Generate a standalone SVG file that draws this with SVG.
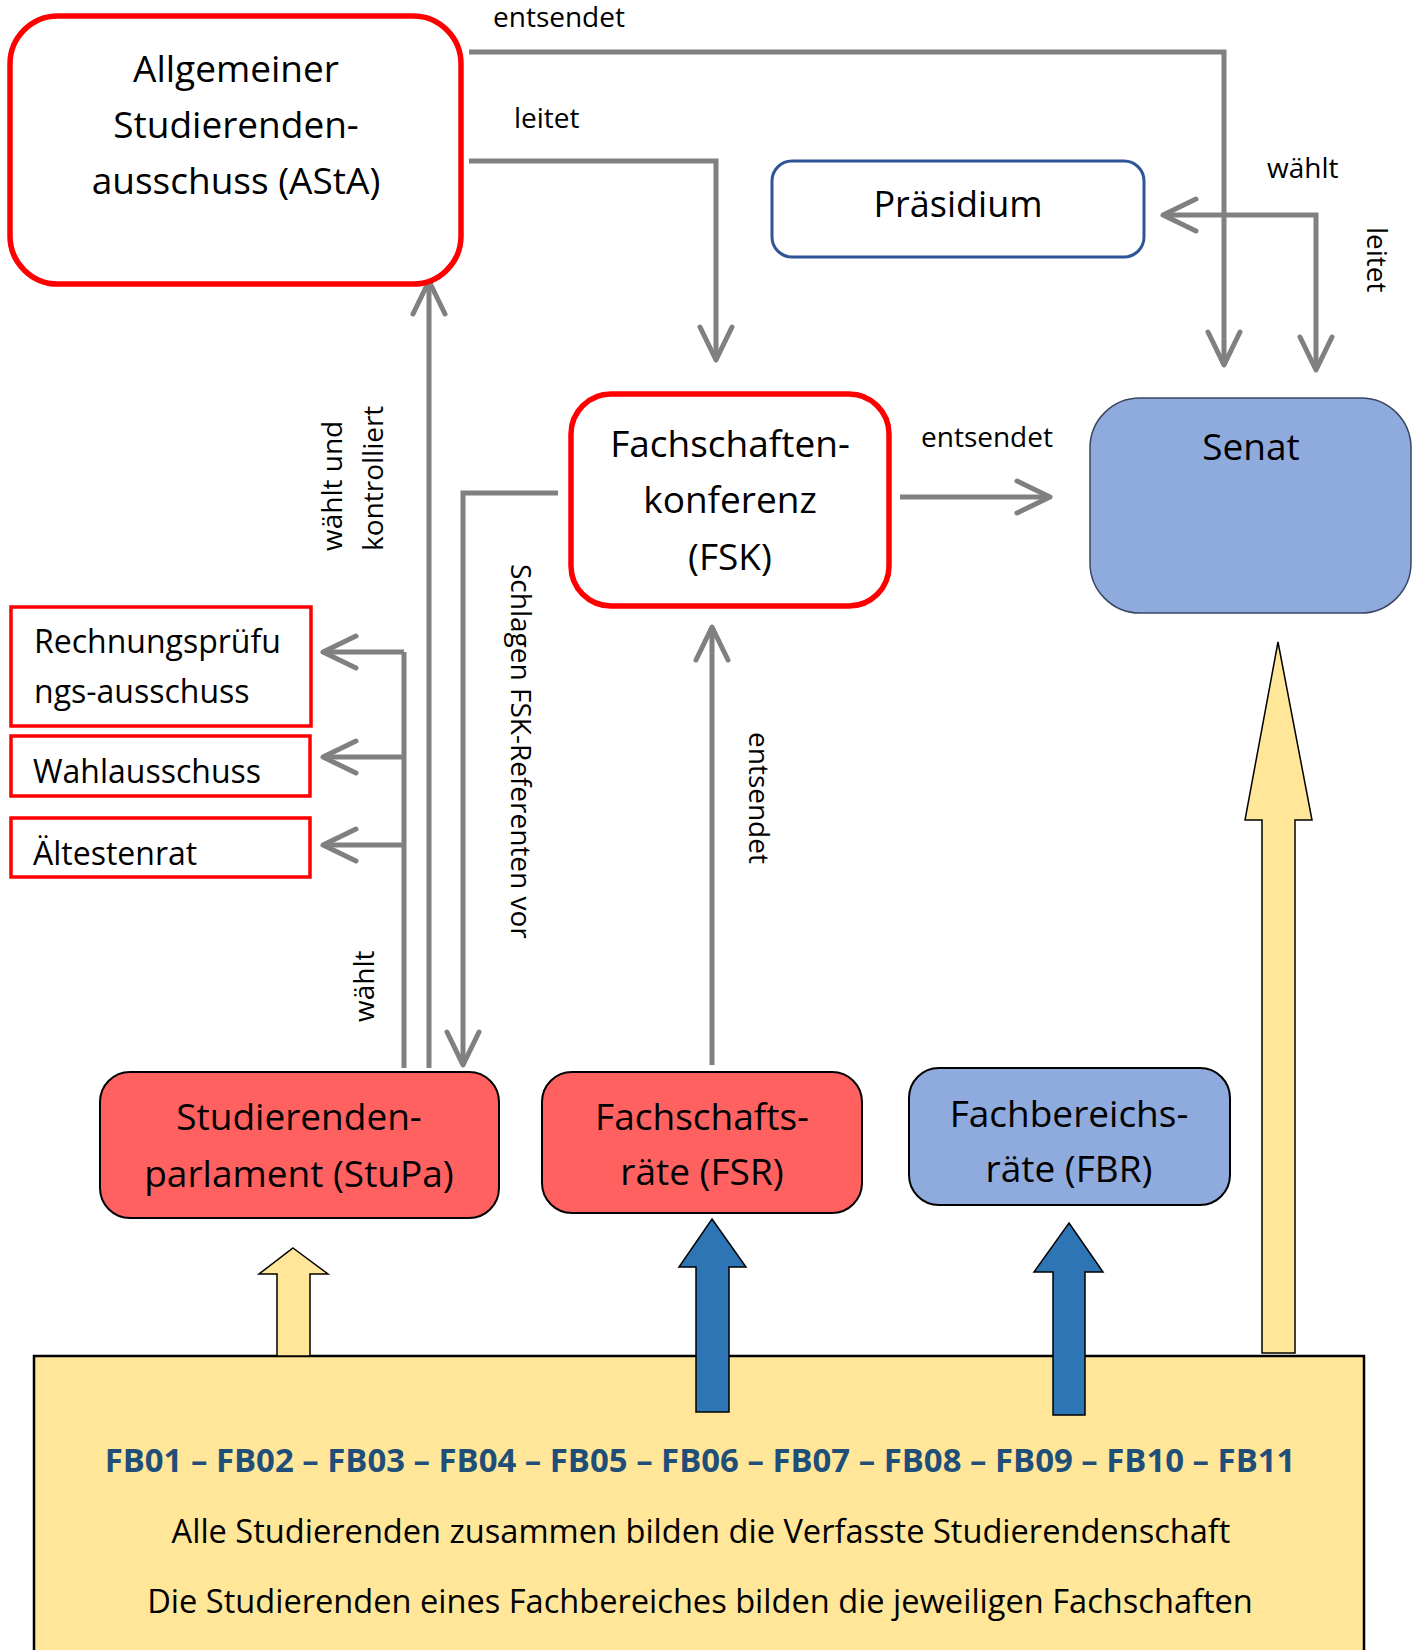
<svg xmlns="http://www.w3.org/2000/svg" width="1423" height="1650" viewBox="0 0 1423 1650">
<style>
text{font-family:"Open Sans","Liberation Sans",sans-serif;fill:#000}
.node{font-size:37px;text-anchor:middle}
.com{font-size:32px}
.lbl{font-size:28px}
.conn{fill:none;stroke:#808080;stroke-width:5}
.redbox{fill:#fff;stroke:#FF0000;stroke-width:5.5}
.small{fill:#fff;stroke:#FF0000;stroke-width:3.5}
.foot{font-size:32.6px;text-anchor:middle}
</style>
<defs>
<marker id="ah" markerUnits="userSpaceOnUse" viewBox="-40 -20 44 40" refX="0" refY="0" markerWidth="44" markerHeight="40" orient="auto-start-reverse" overflow="visible">
<path d="M-33,-16 L0,0 L-33,16" fill="none" stroke="#808080" stroke-width="5" stroke-linecap="round" stroke-linejoin="round"/>
</marker>
</defs>
<rect width="1423" height="1650" fill="#fff"/>

<g id="basis">
<rect x="34" y="1356" width="1330" height="320" fill="#FFE699" stroke="#000" stroke-width="2.5"/>
<text class="foot" x="700" y="1472" style="font-weight:bold;fill:#1F4E79;font-size:32.9px">FB01 – FB02 – FB03 – FB04 – FB05 – FB06 – FB07 – FB08 – FB09 – FB10 – FB11</text>
<text class="foot" x="701" y="1543">Alle Studierenden zusammen bilden die Verfasste Studierendenschaft</text>
<text class="foot" x="700" y="1613">Die Studierenden eines Fachbereiches bilden die jeweiligen Fachschaften</text>
</g>

<g id="block-arrows" stroke="#000" stroke-width="1.5">
<polygon points="293,1248 328,1274 310,1274 310,1356 277,1356 277,1274 259,1274" fill="#FFE699"/>
<polygon points="712,1219 746,1267 729,1267 729,1412 696,1412 696,1267 679,1267" fill="#2E75B6"/>
<polygon points="1069,1223 1103,1272 1085,1272 1085,1415 1053,1415 1053,1272 1034,1272" fill="#2E75B6"/>
<polygon points="1278,642 1312,820 1295,820 1295,1353 1262,1353 1262,820 1245,820" fill="#FFE699"/>
</g>

<g id="connectors">
<path class="conn" d="M469,52 H1224 V365" marker-end="url(#ah)"/>
<path class="conn" d="M469,161 H716 V360" marker-end="url(#ah)"/>
<path class="conn" d="M1163,215 H1316 V370" marker-start="url(#ah)" marker-end="url(#ah)"/>
<path class="conn" d="M429,1068 V281" marker-end="url(#ah)"/>
<path class="conn" d="M404,1068 V652"/>
<path class="conn" d="M404,652 H323" marker-end="url(#ah)"/>
<path class="conn" d="M404,757 H323" marker-end="url(#ah)"/>
<path class="conn" d="M404,845 H323" marker-end="url(#ah)"/>
<path class="conn" d="M558,493 H463 V1065" marker-end="url(#ah)"/>
<path class="conn" d="M712,1065 V627" marker-end="url(#ah)"/>
<path class="conn" d="M900,497 H1050" marker-end="url(#ah)"/>
<text class="lbl" x="493" y="27">entsendet</text>
<text class="lbl" x="514" y="128">leitet</text>
<text class="lbl" x="1267" y="178">wählt</text>
<text class="lbl" transform="translate(1367,227) rotate(90)">leitet</text>
<text class="lbl" transform="translate(342,551) rotate(-90)">wählt und</text>
<text class="lbl" transform="translate(383,551) rotate(-90)">kontrolliert</text>
<text class="lbl" transform="translate(511,564) rotate(90)">Schlagen FSK-Referenten vor</text>
<text class="lbl" transform="translate(749,732) rotate(90)">entsendet</text>
<text class="lbl" x="921" y="447">entsendet</text>
<text class="lbl" transform="translate(374,1022) rotate(-90)">wählt</text>
</g>

<g id="asta">
<rect class="redbox" x="10" y="16" width="451" height="268" rx="48"/>
<text class="node" x="236" y="82">Allgemeiner</text>
<text class="node" x="236" y="138">Studierenden-</text>
<text class="node" x="236" y="194">ausschuss (AStA)</text>
</g>

<g id="praesidium">
<rect x="772" y="161" width="372" height="96" rx="20" fill="#fff" stroke="#2F5597" stroke-width="3"/>
<text class="node" x="958" y="217" style="font-size:36px">Präsidium</text>
</g>

<g id="fsk">
<rect class="redbox" x="571" y="394" width="318" height="212" rx="40"/>
<text class="node" x="730" y="457">Fachschaften-</text>
<text class="node" x="730" y="513">konferenz</text>
<text class="node" x="730" y="570">(FSK)</text>
</g>

<g id="senat">
<rect x="1090" y="398" width="321" height="215" rx="50" fill="#8FAADC" stroke="#3A4763" stroke-width="1.5"/>
<text class="node" x="1251" y="460">Senat</text>
</g>

<g id="rechnungspruefung">
<rect class="small" x="11" y="607" width="300" height="119"/>
<text class="com" x="34" y="653">Rechnungsprüfu</text>
<text class="com" x="34" y="703">ngs-ausschuss</text>
</g>

<g id="wahlausschuss">
<rect class="small" x="11" y="736" width="299" height="60"/>
<text class="com" x="33" y="783">Wahlausschuss</text>
</g>

<g id="aeltestenrat">
<rect class="small" x="11" y="818" width="299" height="59"/>
<text class="com" x="33" y="865">Ältestenrat</text>
</g>

<g id="stupa">
<rect x="100" y="1072" width="399" height="146" rx="30" fill="#FF6161" stroke="#000" stroke-width="2"/>
<text class="node" x="299" y="1130">Studierenden-</text>
<text class="node" x="299" y="1187">parlament (StuPa)</text>
</g>

<g id="fsr">
<rect x="542" y="1072" width="320" height="141" rx="30" fill="#FF6161" stroke="#000" stroke-width="2"/>
<text class="node" x="702" y="1130">Fachschafts-</text>
<text class="node" x="702" y="1185">räte (FSR)</text>
</g>

<g id="fbr">
<rect x="909" y="1068" width="321" height="137" rx="30" fill="#8FAADC" stroke="#000" stroke-width="2"/>
<text class="node" x="1069" y="1127">Fachbereichs-</text>
<text class="node" x="1069" y="1182">räte (FBR)</text>
</g>
</svg>
